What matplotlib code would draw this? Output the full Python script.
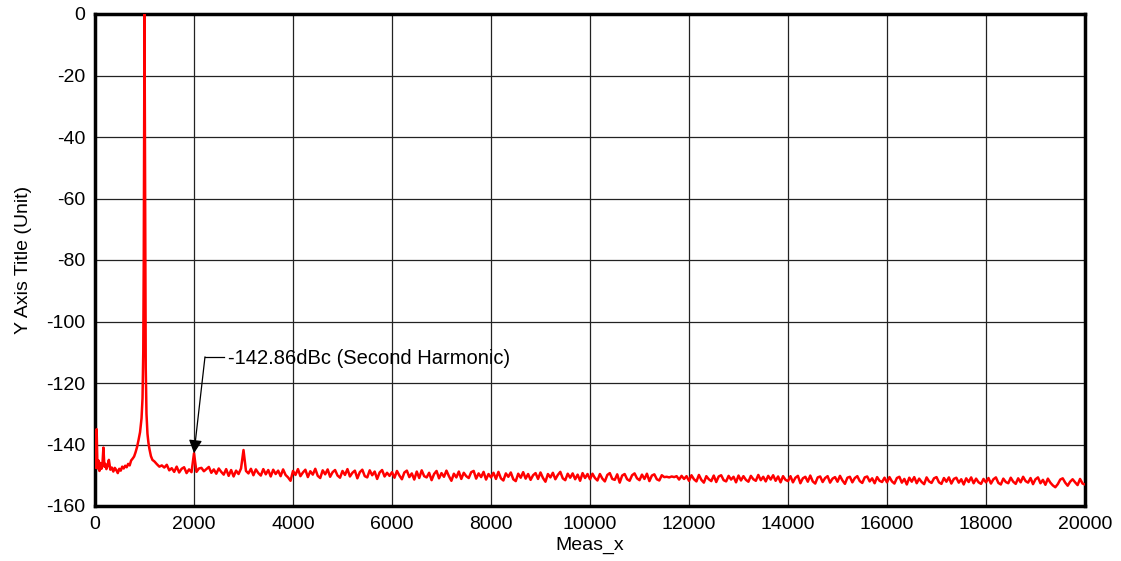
import numpy as np
import matplotlib
matplotlib.use("Agg")
import matplotlib.pyplot as plt

# ---------------- data ----------------
# low-frequency region including the fundamental at 1 kHz
low_freq_hz = [0, 15, 33, 50, 70, 90, 110, 130, 150, 170, 190, 210, 230, 250, 280, 310,
               340, 370, 400, 430, 460, 490, 520, 550, 580, 610, 640, 670, 700, 730, 760,
               790, 820, 850, 880, 910, 940, 960, 975, 985, 992, 1000, 1008, 1015, 1025,
               1040, 1060, 1080, 1100, 1130, 1160, 1200, 1250, 1300, 1350]
low_level_dbc = [-147.5, -146.0, -135.0, -147.8, -145.2, -148.6, -146.0, -147.9, -146.5,
                 -141.0, -147.2, -146.3, -148.0, -147.1, -145.0, -148.2, -147.5, -148.8,
                 -147.6, -148.3, -149.3, -147.9, -148.5, -147.2, -147.8, -146.9, -147.4,
                 -146.3, -146.8, -145.2, -144.6, -143.9, -142.5, -140.8, -138.5, -136.0,
                 -131.5, -125.0, -110.0, -80.0, -40.0, 0.0, -40.0, -80.0, -115.0, -130.0,
                 -136.5, -139.5, -141.5, -143.8, -145.0, -145.5, -146.4, -147.2, -146.8]

# noise floor, 50 Hz bins, each segment: start frequency + values
bin_step_hz = 50
seg_1400 = [-147.5, -146.6, -148.4, -147.7, -148.9, -147.2, -149.1, -147.9, -147.4, -149.3,
            -148.1, -149.0,
            -142.86,  # second harmonic at 2000 Hz
            -148.9, -147.8, -147.6, -148.7, -148.0, -147.3, -149.2, -148.1, -149.5, -147.8,
            -148.9, -149.8, -148.0, -150.2, -148.3, -150.4, -148.5, -149.6, -147.8,
            -141.8,   # third harmonic at 3000 Hz
            -148.6, -149.4, -147.9, -150.0, -148.1, -149.3, -150.1, -148.0, -149.7, -148.3,
            -150.4, -148.2, -149.6, -148.5, -150.3, -148.1, -149.9, -150.7, -151.8]
seg_4000 = [-148.6, -149.9, -148.0, -150.3, -149.1, -148.2, -150.6, -148.7, -149.8, -147.9,
            -150.2, -150.9, -148.4, -149.7, -148.1, -150.5, -149.0, -148.3, -150.1, -150.8,
            -148.6, -149.9, -148.0, -150.4, -149.2, -148.5, -151.0, -149.0, -148.2, -150.3,
            -150.7, -148.4, -150.0, -148.8, -151.2, -149.1, -148.3, -150.4, -149.2, -150.2]
seg_6000 = [-149.0, -150.8, -148.6, -150.1, -151.3, -149.1, -148.5, -150.6, -149.4, -151.4,
            -148.8, -150.9, -148.4, -150.3, -150.7, -149.2, -151.6, -149.6, -148.6, -151.0,
            -149.3, -150.5, -148.5, -150.3, -151.8, -149.5, -150.7, -148.8, -151.2, -149.2,
            -150.3, -150.9, -149.0, -148.6, -151.1, -149.4, -150.6, -148.9, -151.4, -149.6]
seg_8000 = [-150.7, -149.2, -151.2, -148.9, -151.0, -151.7, -149.4, -150.5, -149.1, -151.3,
            -151.9, -149.5, -150.8, -149.0, -151.1, -149.6, -151.5, -150.0, -149.3, -151.2,
            -149.1, -150.9, -152.1, -149.6, -150.7, -149.2, -151.3, -149.9, -148.9, -151.0,
            -151.6, -149.5, -150.8, -149.4, -151.3, -149.8, -151.8, -149.3, -150.9, -149.6]
seg_10000 = [-151.3, -149.5, -150.9, -151.7, -149.6, -151.1, -152.0, -149.9, -149.3, -151.2,
             -151.5, -149.7, -152.4, -150.1, -149.6, -151.3, -151.8, -150.0, -149.4, -151.0,
             -151.6, -149.8, -151.2, -149.5, -151.9, -150.1, -149.7, -151.3, -151.7, -150.0,
             -150.6, -150.5, -150.7, -150.4, -150.6, -150.3, -151.4, -150.2, -151.2, -150.3]
seg_12000 = [-151.8, -150.0, -151.3, -152.0, -149.9, -151.5, -152.4, -150.3, -151.3, -151.9,
             -150.1, -152.2, -150.4, -150.0, -151.6, -152.0, -150.2, -151.4, -150.5, -152.3,
             -150.1, -151.7, -150.3, -151.5, -152.1, -150.2, -151.3, -151.8, -149.9, -151.6,
             -150.5, -152.0, -150.2, -151.4, -150.0, -151.8, -150.4, -152.3, -150.3, -151.5]
seg_14000 = [-151.9, -150.3, -152.3, -150.8, -150.2, -152.6, -151.0, -150.5, -152.1, -150.1,
             -152.0, -152.7, -150.7, -150.4, -152.2, -150.9, -150.3, -152.4, -151.1, -150.6,
             -152.1, -150.2, -151.7, -152.8, -150.8, -150.5, -152.3, -150.9, -150.3, -151.9,
             -152.5, -150.7, -150.4, -152.0, -151.0, -152.6, -150.6, -151.8, -152.2, -150.8]
seg_16000 = [-152.3, -150.6, -152.0, -152.7, -150.9, -150.5, -152.4, -151.2, -153.0, -150.8,
             -152.1, -150.6, -152.6, -151.1, -152.2, -152.9, -150.7, -152.0, -152.5, -151.0,
             -150.6, -152.3, -152.8, -150.9, -152.1, -150.7, -152.7, -151.2, -150.8, -152.4,
             -151.3, -153.0, -151.0, -152.2, -150.7, -152.6, -151.1, -152.3, -152.8, -151.2]
seg_18000 = [-152.3, -150.9, -152.7, -151.3, -150.7, -152.5, -153.0, -151.1, -152.2, -152.6,
             -150.8, -152.1, -152.8, -151.0, -152.3, -150.5, -151.9, -152.4, -150.9, -152.9,
             -151.3, -150.7, -152.6, -151.5, -153.1, -151.1, -152.4, -153.3, -153.9, -152.9,
             -151.4, -151.0, -152.4, -153.4, -152.1, -151.3, -152.3, -153.2, -151.2, -152.7,
             -153.0]
noise_segments = [(1400, seg_1400), (4000, seg_4000), (6000, seg_6000), (8000, seg_8000),
                  (10000, seg_10000), (12000, seg_12000), (14000, seg_14000),
                  (16000, seg_16000), (18000, seg_18000)]

x_ticks = [0, 2000, 4000, 6000, 8000, 10000, 12000, 14000, 16000, 18000, 20000]
y_ticks = [0, -20, -40, -60, -80, -100, -120, -140, -160]

annot_text = "-142.86dBc (Second Harmonic)"
annot_xy = (2000, -142.86)

# ---------------- assemble ----------------
freq = list(low_freq_hz)
level = list(low_level_dbc)
for start, vals in noise_segments:
    freq.extend(start + bin_step_hz * i for i in range(len(vals)))
    level.extend(vals)
freq = np.array(freq, dtype=float)
level = np.array(level, dtype=float)

# ---------------- plot ----------------
plt.rcParams['font.family'] = ['Liberation Sans', 'DejaVu Sans']
plt.rcParams['axes.unicode_minus'] = False
fig = plt.figure(figsize=(11.21, 5.61), dpi=100)
ax = fig.add_axes([95/1121, 1 - 506/561, (1085 - 95)/1121, (506 - 14)/561])

ax.plot(freq, level, color='#ff0000', lw=1.8, zorder=3)

ax.set_xlim(0, 20000)
ax.set_ylim(-160, 0)
ax.set_xticks(x_ticks)
ax.set_yticks(y_ticks)
ax.grid(True, color='#222222', lw=0.9, zorder=1)
ax.tick_params(length=0, labelsize=14, pad=7)
for sp in ax.spines.values():
    sp.set_linewidth(2.5)
    sp.set_color('black')

ax.set_xlabel("Meas_x", fontsize=14, labelpad=3)
ax.set_ylabel("Y Axis Title (Unit)", fontsize=14, labelpad=10)

# annotation with elbow leader
elbow = (2222, -111.5)
ax.annotate('', xy=annot_xy, xytext=elbow,
            arrowprops=dict(arrowstyle='-|>', color='black', lw=0.9,
                            shrinkA=0, shrinkB=0, mutation_scale=20), zorder=5)
ax.plot([elbow[0], 2600], [elbow[1], elbow[1]], color='black', lw=0.9, zorder=5)
ax.text(2687, -112, annot_text, fontsize=14.5, va='center', ha='left', zorder=5)

fig.savefig("out.png", dpi=100)
